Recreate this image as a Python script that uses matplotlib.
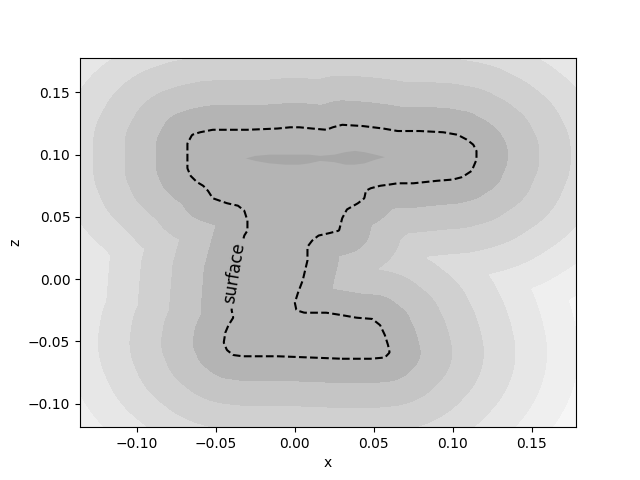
import matplotlib
matplotlib.use('Agg')
import matplotlib.pyplot as plt
import numpy as np
from matplotlib.path import Path

# outline of the cross section (the "surface" contour)
surf_x = [-0.068, -0.068, -0.065, -0.060, -0.052, -0.030, -0.011, -0.003, 0.003, 0.011,
          0.020, 0.024, 0.030, 0.043, 0.056, 0.065, 0.079, 0.094, 0.103, 0.109,
          0.113, 0.115, 0.115, 0.112, 0.106, 0.100, 0.090, 0.075, 0.065, 0.060,
          0.054, 0.048, 0.045, 0.044, 0.040, 0.033, 0.030, 0.028, 0.022, 0.015,
          0.011, 0.008, 0.008, 0.005, 0.002, 0.000, 0.001, 0.006, 0.020, 0.030,
          0.039, 0.049, 0.054, 0.057, 0.059, 0.060, 0.057, 0.048, 0.030, 0.010,
          -0.011, -0.033, -0.039, -0.043, -0.045, -0.044, -0.042, -0.039, -0.040, -0.038,
          -0.032, -0.030, -0.030, -0.032, -0.036, -0.043, -0.052, -0.055, -0.058, -0.062,
          -0.066, -0.068]
surf_z = [0.103, 0.109, 0.116, 0.118, 0.120, 0.120, 0.121, 0.122, 0.122, 0.121,
          0.120, 0.122, 0.124, 0.123, 0.121, 0.119, 0.119, 0.118, 0.116, 0.112,
          0.108, 0.103, 0.096, 0.087, 0.082, 0.080, 0.079, 0.077, 0.077, 0.076,
          0.075, 0.073, 0.071, 0.065, 0.061, 0.056, 0.049, 0.039, 0.037, 0.035,
          0.031, 0.026, 0.015, -0.001, -0.011, -0.019, -0.025, -0.027, -0.027, -0.029,
          -0.031, -0.032, -0.037, -0.045, -0.053, -0.059, -0.063, -0.064, -0.064, -0.063,
          -0.062, -0.062, -0.061, -0.057, -0.051, -0.043, -0.037, -0.031, -0.025, 0.007,
          0.035, 0.039, 0.047, 0.055, 0.059, 0.061, 0.065, 0.071, 0.075, 0.078,
          0.083, 0.089]

# deepest region inside the head
core_x = [-0.031, -0.025, -0.016, -0.006, 0.003, 0.009, 0.016, 0.025, 0.032, 0.038,
          0.044, 0.051, 0.057, 0.051, 0.044, 0.038, 0.032, 0.025, 0.016, 0.009,
          0.003, -0.006, -0.016, -0.025]
core_z = [0.097, 0.099, 0.100, 0.100, 0.100, 0.100, 0.099, 0.100, 0.102, 0.103,
          0.102, 0.100, 0.098, 0.096, 0.093, 0.092, 0.092, 0.094, 0.095, 0.093,
          0.092, 0.092, 0.093, 0.095]

levels = [-1.0, 0.02, 0.04, 0.06, 0.08, 0.10, 0.12, 0.14, 1.0]
shades = ['#b4b4b4', '#c5c5c5', '#d0d0d0', '#dcdcdc', '#e7e7e7', '#efefef', '#f6f6f6', '#fbfbfb']
core_shade = '#a7a7a7'

xmin, xmax = -0.136, 0.178
zmin, zmax = -0.119, 0.178

# signed distance to the outline on a grid
px = np.array(surf_x + surf_x[:1])
pz = np.array(surf_z + surf_z[:1])
gx = np.linspace(xmin, xmax, 400)
gz = np.linspace(zmin, zmax, 400)
X, Z = np.meshgrid(gx, gz)
dist = np.full(X.shape, np.inf)
for i in range(len(px) - 1):
    ax_, az_ = px[i], pz[i]
    bx, bz = px[i + 1], pz[i + 1]
    vx, vz = bx - ax_, bz - az_
    t = ((X - ax_) * vx + (Z - az_) * vz) / (vx * vx + vz * vz)
    t = np.clip(t, 0, 1)
    d = np.hypot(X - ax_ - t * vx, Z - az_ - t * vz)
    dist = np.minimum(dist, d)
inside = Path(np.column_stack([px, pz])).contains_points(
    np.column_stack([X.ravel(), Z.ravel()])).reshape(X.shape)
sdf = np.where(inside, -dist, dist)

fig, ax = plt.subplots(figsize=(6.4, 4.8), dpi=100)
ax.contourf(X, Z, sdf, levels=levels, colors=shades)
ax.fill(core_x, core_z, color=core_shade, lw=0)
cs = ax.contour(X, Z, sdf, levels=[0.0], colors='k', linestyles='--', linewidths=1.5)
ax.clabel(cs, fmt={0.0: 'surface'}, fontsize=12, inline=True, manual=[(-0.039, 0.005)])
ax.set_xlim(xmin, xmax)
ax.set_ylim(zmin, zmax)
ax.set_xlabel('x')
ax.set_ylabel('z')

fig.savefig('out.png', dpi=100)
